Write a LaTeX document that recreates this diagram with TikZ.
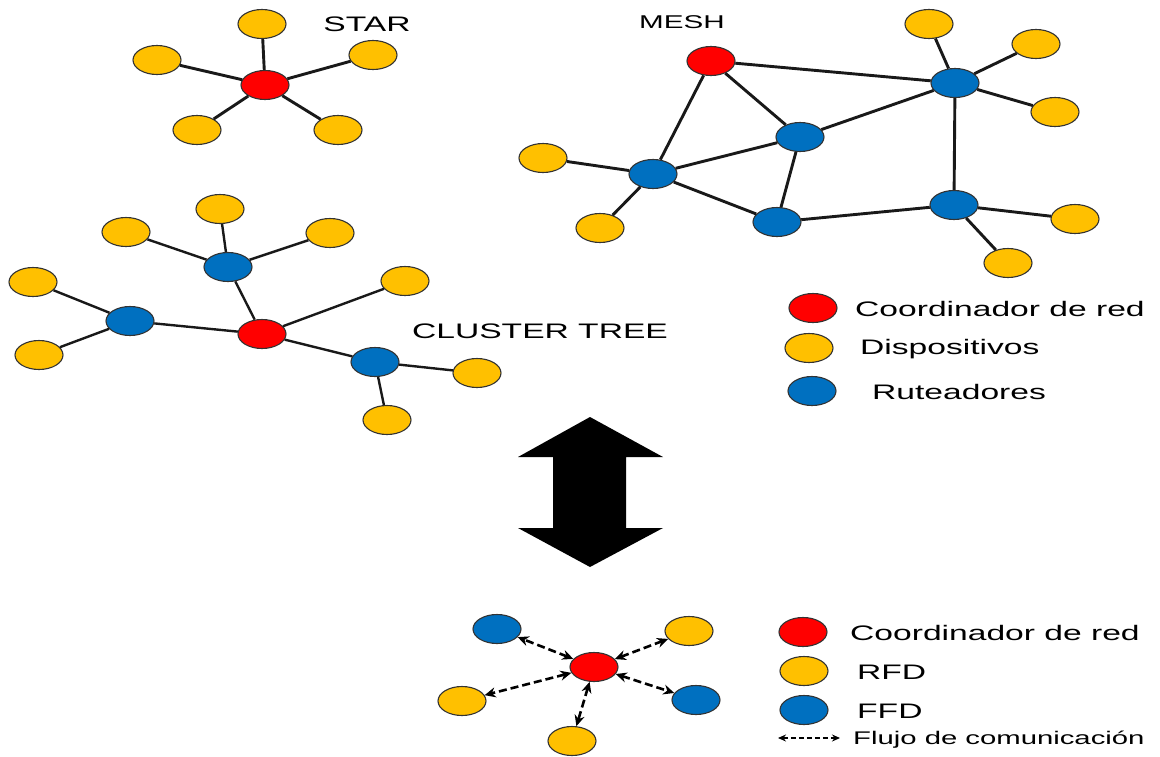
\documentclass[tikz,border=0pt]{standalone}
\usepackage{fontspec}
\newfontfamily\wf[FakeStretch=1.6]{Liberation Sans}
\usetikzlibrary{shapes.geometric,arrows.meta}
\definecolor{cred}{HTML}{FF0000}
\definecolor{cyel}{HTML}{FFC000}
\definecolor{cblu}{HTML}{0070C0}
\tikzset{
  nd/.style={ellipse, draw=black!80, line width=1.1pt, minimum width=48pt, minimum height=29pt, inner sep=0pt},
  crd/.style={nd, fill=cred},
  dev/.style={nd, fill=cyel},
  rut/.style={nd, fill=cblu},
  link/.style={line width=2.9pt, black!90},
  clink/.style={line width=2.4pt, black!90},
  flow/.style={line width=2.6pt, dash pattern=on 8pt off 4pt, {Stealth[length=11pt,width=10pt]}-{Stealth[length=11pt,width=10pt]}},
  ttl/.style={font=\wf\fontsize{21}{25}\selectfont, inner sep=0pt},
  lgd/.style={font=\wf\fontsize{21}{25}\selectfont, anchor=west, inner sep=0pt},
}
\begin{document}
\begin{tikzpicture}[x=1pt,y=-1pt]
\useasboundingbox (0,0) rectangle (1160,756);
% ---------- STAR ----------
\node[crd] (sc) at (265,85) {};
\node[dev] (s1) at (262,24) {};
\node[dev] (s2) at (157,60) {};
\node[dev] (s3) at (373,55) {};
\node[dev] (s4) at (197,130) {};
\node[dev] (s5) at (338,130) {};
\foreach \n in {s1,s2,s3,s4,s5} \draw[link] (sc) -- (\n);
\node[ttl] (tstar) at (367,24) {STAR};
% ---------- MESH ----------
\node[crd] (mc) at (711,61) {};
\node[rut] (m1) at (955,83) {};
\node[rut] (m2) at (800,137) {};
\node[rut] (m3) at (653,174) {};
\node[rut] (m4) at (777,222) {};
\node[rut] (m5) at (954,205) {};
\node[dev] (my1) at (929,24) {};
\node[dev] (my2) at (1036,44) {};
\node[dev] (my3) at (1055,112) {};
\node[dev] (my4) at (543,158) {};
\node[dev] (my5) at (600,228) {};
\node[dev] (my6) at (1075,219) {};
\node[dev] (my7) at (1008,263) {};
\draw[link] (mc) -- (m1);
\draw[link] (mc) -- (m2);
\draw[link] (mc) -- (m3);
\draw[link] (m1) -- (m2);
\draw[link] (m1) -- (m5);
\draw[link] (m2) -- (m3);
\draw[link] (m2) -- (m4);
\draw[link] (m3) -- (m4);
\draw[link] (m4) -- (m5);
\draw[link] (m1) -- (my1);
\draw[link] (m1) -- (my2);
\draw[link] (m1) -- (my3);
\draw[link] (m3) -- (my4);
\draw[link] (m3) -- (my5);
\draw[link] (m5) -- (my6);
\draw[link] (m5) -- (my7);
\node[ttl, font=\wf\fontsize{18.5}{22}\selectfont] (tmesh) at (682,22) {MESH};
% ---------- CLUSTER TREE ----------
\node[crd] (cc) at (262,334) {};
\node[rut] (c1) at (228,267) {};
\node[rut] (c2) at (130,321) {};
\node[rut] (c3) at (375,362) {};
\node[dev] (cy1) at (220,209) {};
\node[dev] (cy2) at (126,232) {};
\node[dev] (cy3) at (330,233) {};
\node[dev] (cy4) at (33,282) {};
\node[dev] (cy5) at (39,355) {};
\node[dev] (cy6) at (405,281) {};
\node[dev] (cy7) at (477,373) {};
\node[dev] (cy8) at (387,420) {};
\draw[clink] (cc) -- (c1);
\draw[clink] (cc) -- (c2);
\draw[clink] (cc) -- (c3);
\draw[clink] (cc) -- (cy6);
\draw[clink] (c1) -- (cy1);
\draw[clink] (c1) -- (cy2);
\draw[clink] (c1) -- (cy3);
\draw[clink] (c2) -- (cy4);
\draw[clink] (c2) -- (cy5);
\draw[clink] (c3) -- (cy7);
\draw[clink] (c3) -- (cy8);
\node[ttl] (tclus) at (540,331) {CLUSTER TREE};
% ---------- Legend 1 ----------
\node[crd] (l1c) at (813,308) {};
\node[dev] (l1d) at (809,348) {};
\node[rut] (l1r) at (812,391) {};
\node[lgd] (l1ct) at (855,309) {Coordinador de red};
\node[lgd] (l1dt) at (860,349) {Dispositivos};
\node[lgd] (l1rt) at (872,392) {Ruteadores};
% ---------- Big double arrow ----------
\fill[black] (590,417) -- (663,457) -- (626,457) -- (626,528) -- (663,528) -- (590,567)
  -- (518,528) -- (553,528) -- (553,457) -- (518,457) -- cycle;
% ---------- Bottom network ----------
\node[crd] (bc) at (594,667) {};
\node[rut] (b1) at (497,629) {};
\node[dev] (b2) at (689,631) {};
\node[dev] (b3) at (462,701) {};
\node[rut] (b4) at (696,700) {};
\node[dev] (b5) at (572,741) {};
\foreach \n in {b1,b2,b3,b4,b5} \draw[flow] (bc) -- (\n);
% ---------- Legend 2 ----------
\node[crd] (l2c) at (803,632) {};
\node[dev] (l2d) at (804,671) {};
\node[rut] (l2f) at (804,710) {};
\node[lgd] (l2ct) at (850,633) {Coordinador de red};
\node[lgd] (l2dt) at (857,672) {RFD};
\node[lgd] (l2ft) at (857,711) {FFD};
\coordinate (fa) at (778,738);
\coordinate (fb) at (840,738);
\draw[line width=1.8pt, dash pattern=on 5pt off 3pt, {Stealth[length=8pt,width=7pt]}-{Stealth[length=8pt,width=7pt]}] (fa) -- (fb);
\node[lgd, font=\wf\fontsize{18.3}{21}\selectfont] (l2flt) at (853,740) {Flujo de comunicación};
\end{tikzpicture}
\end{document}
